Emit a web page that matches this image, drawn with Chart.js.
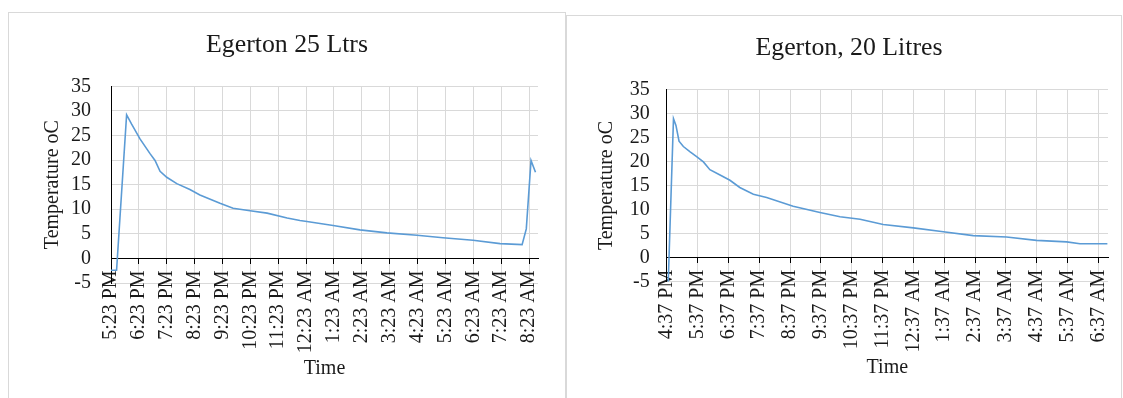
<!DOCTYPE html>
<html>
<head>
<meta charset="utf-8">
<title>Egerton cooling curves</title>
<script src="https://cdn.jsdelivr.net/npm/chart.js@4.4.1/dist/chart.umd.min.js"></script>
<style>
  html, body { margin: 0; padding: 0; background: #fff; width: 1123px; height: 398px; overflow: hidden; }
  .panel { position: absolute; border: 1px solid #d9d9d9; background: #fff; }
  #panel25 { left: 8px; top: 12px; width: 556px; height: 400px; }
  #panel20 { left: 566px; top: 15px; width: 554px; height: 400px; }
  canvas { display: block; }
</style>
</head>
<body>
<div class="panel" id="panel25"><canvas id="chart25" width="556" height="385"></canvas></div>
<div class="panel" id="panel20"><canvas id="chart20" width="554" height="382"></canvas></div>
<script>
// Egerton 25 Ltrs: hours since 5:23 PM and temperature (°C)
const hours25 = [0, 0.2, 0.56, 0.74, 1.04, 1.4, 1.58, 1.76, 2.0, 2.36,
                 2.83, 3.19, 3.91, 4.38, 4.99, 5.6, 6.32, 6.78, 7.03, 7.97,
                 8.93, 9.9, 10.98, 11.91, 12.99, 13.96, 14.75, 14.9, 15.07, 15.23];
const temps25 = [-2.4, -2.4, 29.2, 27.3, 24.3, 21.3, 19.9, 17.7, 16.5, 15.2,
                 14.0, 12.9, 11.2, 10.2, 9.7, 9.2, 8.2, 7.7, 7.5, 6.7,
                 5.8, 5.2, 4.7, 4.2, 3.7, 3.0, 2.8, 6.0, 19.9, 17.5];
const timeLabels25 = ['5:23 PM', '6:23 PM', '7:23 PM', '8:23 PM', '9:23 PM', '10:23 PM',
                      '11:23 PM', '12:23 AM', '1:23 AM', '2:23 AM', '3:23 AM', '4:23 AM',
                      '5:23 AM', '6:23 AM', '7:23 AM', '8:23 AM'];

// Egerton, 20 Litres: hours since 4:37 PM and temperature (°C)
const hours20 = [0.05, 0.22, 0.30, 0.40, 0.54, 0.76, 0.97, 1.19, 1.40, 1.73,
                 2.05, 2.37, 2.81, 3.24, 4.10, 4.97, 5.62, 6.27, 7.02, 8.0,
                 8.97, 9.94, 11.02, 11.99, 12.97, 13.4, 14.29];
const temps20 = [-5, 28.9, 27.5, 24.2, 23.1, 22.0, 21.0, 19.9, 18.3, 17.2,
                 16.1, 14.6, 13.2, 12.5, 10.7, 9.4, 8.5, 8.0, 6.9, 6.2,
                 5.4, 4.6, 4.3, 3.6, 3.3, 2.9, 2.9];
const timeLabels20 = ['4:37 PM', '5:37 PM', '6:37 PM', '7:37 PM', '8:37 PM', '9:37 PM',
                      '10:37 PM', '11:37 PM', '12:37 AM', '1:37 AM', '2:37 AM', '3:37 AM',
                      '4:37 AM', '5:37 AM', '6:37 AM'];

const tempTicks = { min: -5, max: 35, step: 5 };

const SERIF = "'Liberation Serif', 'Times New Roman', Times, serif";
const INK = '#1a1a1a';
const GRID = '#d9d9d9';
const LINE = '#5b9bd5';

function buildChart(canvasId, opts) {
  const points = opts.hours.map((h, i) => ({ x: h, y: opts.temps[i] }));
  return new Chart(document.getElementById(canvasId), {
    type: 'line',
    data: {
      datasets: [{
        data: points,
        borderColor: LINE,
        borderWidth: 1.6,
        pointRadius: 0,
        tension: 0,
        fill: false
      }]
    },
    options: {
      responsive: false,
      devicePixelRatio: 1,
      animation: false,
      // side padding sets where the title is centred
      layout: { padding: { left: opts.padLeft, right: opts.padRight, top: 0, bottom: opts.padBottom } },
      plugins: {
        legend: { display: false },
        tooltip: { enabled: false },
        title: {
          display: true,
          text: opts.title,
          color: INK,
          font: { family: SERIF, size: 25.8, weight: 'normal' },
          padding: { top: opts.titleTop, bottom: opts.titleBottom }
        }
      },
      scales: {
        x: {
          type: 'linear',
          position: { y: 0 },
          min: 0,
          max: opts.xMax,
          grid: { color: GRID, lineWidth: 1, drawTicks: true, tickLength: 5, tickColor: '#000' },
          border: { display: true, color: '#000', width: 1 },
          ticks: {
            stepSize: 1,
            includeBounds: false,
            autoSkip: false,
            maxTicksLimit: 50,
            minRotation: 90,
            maxRotation: 90,
            padding: 7,
            color: INK,
            font: { family: SERIF, size: 20 },
            callback: (v) => opts.labels[Math.round(v)]
          },
          title: {
            display: true,
            text: 'Time',
            color: INK,
            font: { family: SERIF, size: 20 },
            padding: { top: 0, bottom: 0 }
          },
          afterFit: (s) => { s.paddingLeft = 0; s.paddingRight = 0; s.height = opts.xAxisHeight; }
        },
        y: {
          min: tempTicks.min,
          max: tempTicks.max,
          grid: { color: GRID, lineWidth: 1, drawTicks: false },
          border: { display: true, color: '#000', width: 1 },
          ticks: {
            stepSize: tempTicks.step,
            autoSkip: false,
            padding: opts.yTickPad,
            color: INK,
            font: { family: SERIF, size: 20 }
          },
          title: {
            display: true,
            text: 'Temperature oC',
            color: INK,
            font: { family: SERIF, size: 20 },
            padding: { top: opts.yTitlePad, bottom: 0 }
          },
          afterFit: (s) => { s.width = opts.yAxisWidth; }
        }
      }
    }
  });
}

buildChart('chart25', {
  hours: hours25, temps: temps25, labels: timeLabels25, title: 'Egerton 25 Ltrs',
  xMax: 15.32, padLeft: 27, padRight: 27, padBottom: 115, titleTop: 17, titleBottom: 25.3,
  yAxisWidth: 75, yTickPad: 20, yTitlePad: 4.5, xAxisHeight: 122
});

buildChart('chart20', {
  hours: hours20, temps: temps20, labels: timeLabels20, title: 'Egerton, 20 Litres',
  xMax: 14.31, padLeft: 23, padRight: 13, padBottom: 116.2, titleTop: 17, titleBottom: 25.3,
  yAxisWidth: 76.7, yTickPad: 17, yTitlePad: 4.7, xAxisHeight: 122
});
</script>
</body>
</html>
